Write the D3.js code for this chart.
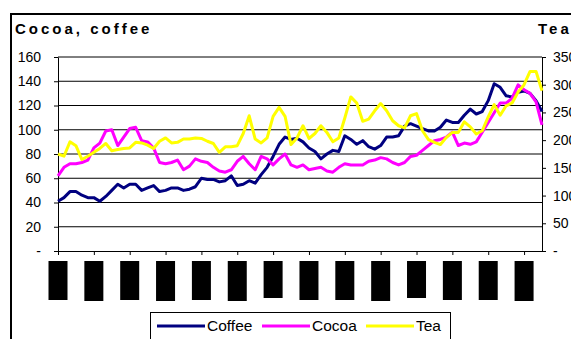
<!DOCTYPE html>
<html>
<head>
<meta charset="utf-8">
<script src="https://cdn.jsdelivr.net/npm/d3@7"></script>
<style>
  body { margin: 0; background: #fff; }
  svg { display: block; font-family: Arial, "Liberation Sans", sans-serif; }
  .axis path, .axis line { stroke: #000; }
  .axis text { fill: #000; font-size: 14px; }
</style>
</head>
<body>
<svg id="chart"></svg>
<script>
// one value per period
const coffee = [41,44,49,49,46,44,44,41,45,50,55,52,55,55,50,52,54,49,50,52,52,50,51,53,60,59,59,57,58,62,54,55,58,56,63,69,78,88,94,92,93,90,85,82,76,80,83,82,95,92,88,91,86,84,87,94,94,95,103,105,103,101,99,99,102,108,106,106,112,117,113,115,124,138,135,128,127,131,132,130,124,115];
const cocoa = [62,69,72,72,73,75,85,89,99,100,87,94,101,102,91,90,85,73,72,73,75,67,70,76,74,73,69,66,65,67,74,78,72,67,78,76,71,76,80,71,69,71,67,68,69,66,65,69,72,71,71,71,74,75,77,76,73,71,73,78,79,83,87,91,92,94,98,87,89,88,90,98,106,114,122,122,126,137,133,130,123,104];
const tea = [175,171,197,190,165,171,178,185,194,181,183,185,186,196,195,191,185,198,204,195,196,202,202,204,203,198,194,178,188,188,190,212,244,202,195,204,243,259,243,192,204,226,203,212,226,214,197,204,240,278,267,234,238,253,266,253,235,226,222,244,248,217,201,196,192,205,214,214,233,224,211,217,242,264,245,262,267,287,300,324,324,289];

const leftTicks = [0, 20, 40, 60, 80, 100, 120, 140, 160];
const rightTicks = [0, 50, 100, 150, 200, 250, 300, 350];
const periodLabels = ['1990','1991','1992','1993','1994','1995','1996','1997','1998','1999','2000','2001','2002','2003'];
const seriesNames = ['Coffee', 'Cocoa', 'Tea'];

const width = 571, height = 339;
const margin = { top: 57, right: 29, bottom: 88, left: 58 };
const plotW = width - margin.left - margin.right;
const plotH = height - margin.top - margin.bottom;
const colors = { Coffee: '#000080', Cocoa: '#ff00ff', Tea: '#ffff00' };

const svg = d3.select('#chart').attr('width', width).attr('height', height);

// outer frame runs off the page on the right and bottom
svg.append('rect')
    .attr('x', 11).attr('y', 14)
    .attr('width', 620).attr('height', 360)
    .attr('fill', 'none').attr('stroke', '#000').attr('stroke-width', 2);

const chart = svg.append('g').attr('transform', `translate(${margin.left},${margin.top})`);

const n = coffee.length;
const xScale = d3.scaleLinear().domain([0, n - 1]).range([0, plotW]);
const yLeft = d3.scaleLinear().domain([0, 160]).range([plotH, 0]);
const yRight = d3.scaleLinear().domain([0, 350]).range([plotH, 0]);

// gridlines from the left axis
chart.append('g').selectAll('line')
    .data(leftTicks.filter(d => d > 0))
    .join('line')
    .attr('x1', 0).attr('x2', plotW)
    .attr('y1', d => yLeft(d)).attr('y2', d => yLeft(d))
    .attr('stroke', '#000').attr('stroke-width', 1);

const zeroDash = d => d === 0 ? '-' : d;

chart.append('g').attr('class', 'axis')
    .call(d3.axisLeft(yLeft).tickValues(leftTicks).tickSize(4).tickSizeOuter(0).tickPadding(13).tickFormat(zeroDash));

chart.append('g').attr('class', 'axis')
    .attr('transform', `translate(${plotW},0)`)
    .call(d3.axisRight(yRight).tickValues(rightTicks).tickSize(4).tickSizeOuter(0).tickPadding(7).tickFormat(zeroDash))
    .selectAll('text').attr('text-anchor', 'start');

const tickIdx = periodLabels.map((d, i) => i * 6);
const xAxisG = chart.append('g').attr('class', 'axis')
    .attr('transform', `translate(0,${plotH})`)
    .call(d3.axisBottom(xScale).tickValues(tickIdx).tickSize(4).tickSizeOuter(0).tickFormat(''));

// period labels come out as solid black blocks in the original
const lbl = chart.append('g').selectAll('g')
    .data(periodLabels)
    .join('g')
    .attr('transform', (d, i) => `translate(${xScale(tickIdx[i])},${plotH + 10})`);
lbl.append('rect')
    .attr('x', -9.5).attr('y', 0)
    .attr('width', 19).attr('height', (d, i) => [39, 40, 39, 40, 39, 40, 37, 39, 39, 40, 37, 39, 39, 40][i])
    .attr('fill', '#000');
lbl.append('text')
    .attr('transform', 'rotate(-90)')
    .attr('x', -36).attr('y', 5)
    .attr('fill', '#000')
    .style('font-size', '13px')
    .text(d => d);

const line = yScale => d3.line()
    .x((d, i) => xScale(i))
    .y(d => yScale(d));

const series = [
    { name: 'Coffee', values: coffee, y: yLeft },
    { name: 'Cocoa', values: cocoa, y: yLeft },
    { name: 'Tea', values: tea, y: yRight }
];

chart.append('g').selectAll('path')
    .data(series)
    .join('path')
    .attr('fill', 'none')
    .attr('stroke', d => colors[d.name])
    .attr('stroke-width', 3)
    .attr('stroke-linejoin', 'round')
    .attr('d', d => line(d.y)(d.values));

// titles
svg.append('text')
    .attr('x', 15).attr('y', 34)
    .style('font-size', '15px').style('font-weight', 'bold').style('letter-spacing', '3px')
    .text('Cocoa, coffee');
svg.append('text')
    .attr('x', 538).attr('y', 34)
    .style('font-size', '15px').style('font-weight', 'bold').style('letter-spacing', '3px')
    .text('Tea');

// legend
const legend = svg.append('g').attr('transform', 'translate(150,312)');
legend.append('rect')
    .attr('x', 0.5).attr('y', 0.5).attr('width', 300).attr('height', 40)
    .attr('fill', '#fff').attr('stroke', '#000');
const item = legend.selectAll('g.item')
    .data(seriesNames)
    .join('g')
    .attr('class', 'item')
    .attr('transform', (d, i) => `translate(${[7, 112, 216][i]},0)`);
item.append('line')
    .attr('x1', 0).attr('x2', 48).attr('y1', 14).attr('y2', 14)
    .attr('stroke', d => colors[d]).attr('stroke-width', 3);
item.append('text')
    .attr('x', 50).attr('y', 19)
    .style('font-size', '15.5px')
    .text(d => d);
</script>
</body>
</html>
